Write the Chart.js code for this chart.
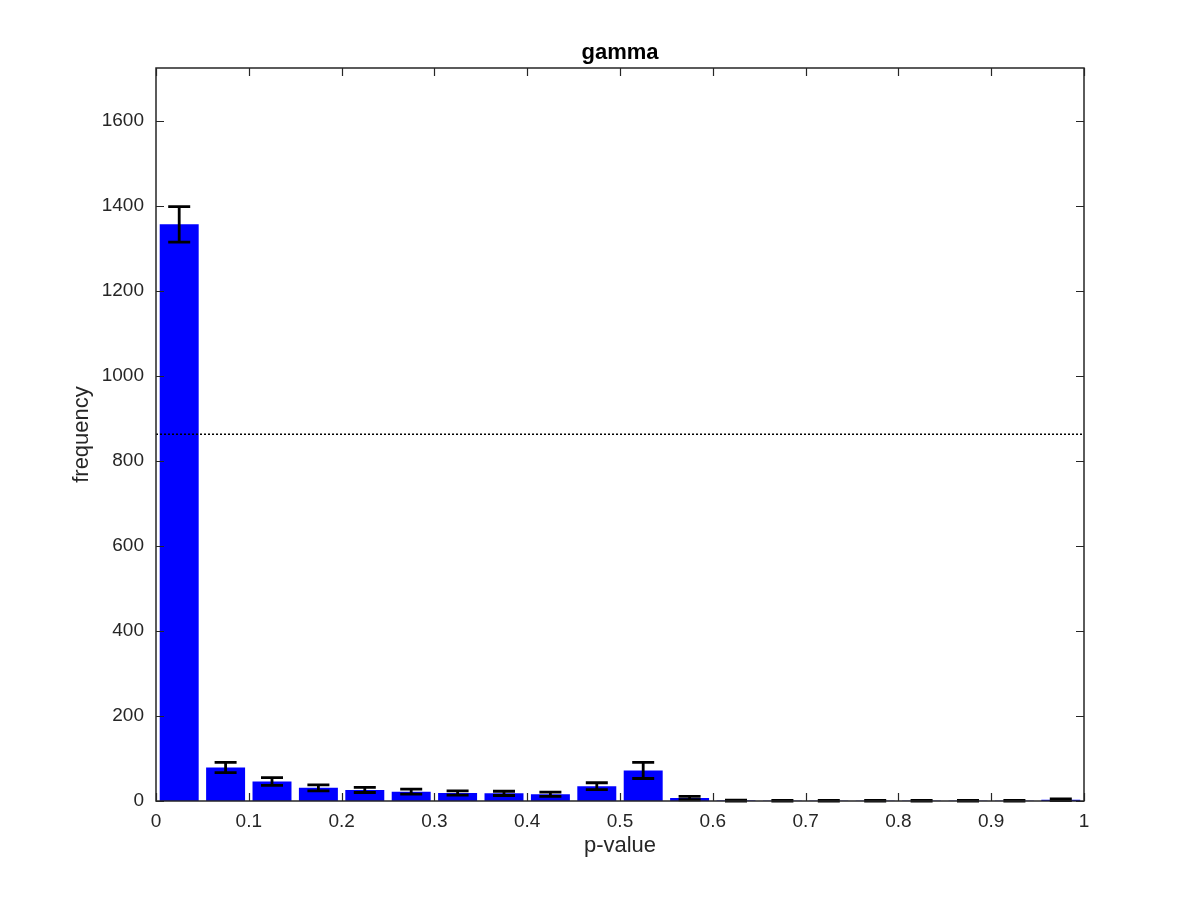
<!DOCTYPE html>
<html>
<head>
<meta charset="utf-8">
<script src="https://cdn.jsdelivr.net/npm/chart.js@4/dist/chart.umd.min.js"></script>
<style>
html,body{margin:0;padding:0;background:#fff;}
#wrap{width:1200px;height:900px;position:relative;}
</style>
</head>
<body>
<div id="wrap"><canvas id="c" width="1200" height="900"></canvas></div>
<script>
// ---- data ----
const binCenters = [0.025,0.075,0.125,0.175,0.225,0.275,0.325,0.375,0.425,0.475,0.525,0.575,0.625,0.675,0.725,0.775,0.825,0.875,0.925,0.975];
const frequencies = [1357,79,46,31,26,22,19,18,16,35,72,7,1,0.5,0.5,0.3,0.3,0.3,0.3,3];
const errors = [42,12,9,7,6,6,5,5,5,8,19,4,1,1,1,1,1,1,1,2];
const threshold = 863;
const xTickValues = [0,0.1,0.2,0.3,0.4,0.5,0.6,0.7,0.8,0.9,1];
const xTickLabels = ['0','0.1','0.2','0.3','0.4','0.5','0.6','0.7','0.8','0.9','1'];
const yTickValues = [0,200,400,600,800,1000,1200,1400,1600];
const yTickLabels = ['0','200','400','600','800','1000','1200','1400','1600'];
const titleText = 'gamma';
const xTitle = 'p-value';
const yTitle = 'frequency';

const FONT = '"Liberation Sans", Arial, Helvetica, sans-serif';
const AX = '#262626';

const decorPlugin = {
  id: 'decor',
  afterDatasetsDraw(chart) {
    const ctx = chart.ctx;
    const xs = chart.scales.x, ys = chart.scales.y;
    const a = chart.chartArea;
    ctx.save();
    // dotted threshold line
    const ty = ys.getPixelForValue(threshold);
    ctx.strokeStyle = '#000';
    ctx.lineWidth = 1.5;
    ctx.setLineDash([2, 2]);
    ctx.beginPath();
    ctx.moveTo(a.left, ty);
    ctx.lineTo(a.right, ty);
    ctx.stroke();
    ctx.setLineDash([]);
    // error bars
    ctx.strokeStyle = '#000';
    ctx.lineWidth = 2.8;
    const cap = 11;
    for (let i = 0; i < binCenters.length; i++) {
      const x = xs.getPixelForValue(binCenters[i]);
      const yt = ys.getPixelForValue(frequencies[i] + errors[i]);
      const yb = ys.getPixelForValue(Math.max(0, frequencies[i] - errors[i]));
      ctx.beginPath();
      ctx.moveTo(x, yt); ctx.lineTo(x, yb);
      ctx.moveTo(x - cap, yt); ctx.lineTo(x + cap, yt);
      ctx.moveTo(x - cap, yb); ctx.lineTo(x + cap, yb);
      ctx.stroke();
    }
    // box
    ctx.strokeStyle = AX;
    ctx.lineWidth = 1.5;
    ctx.strokeRect(a.left, a.top, a.right - a.left, a.bottom - a.top);
    // inward ticks
    ctx.lineWidth = 1.2;
    const tl = 8;
    ctx.beginPath();
    for (const v of xTickValues) {
      const x = Math.round(xs.getPixelForValue(v)) + 0.5;
      ctx.moveTo(x, a.bottom); ctx.lineTo(x, a.bottom - tl);
      ctx.moveTo(x, a.top); ctx.lineTo(x, a.top + tl);
    }
    for (const v of yTickValues) {
      const y = Math.round(ys.getPixelForValue(v)) + 0.5;
      ctx.moveTo(a.left, y); ctx.lineTo(a.left + tl, y);
      ctx.moveTo(a.right, y); ctx.lineTo(a.right - tl, y);
    }
    ctx.stroke();
    // titles
    ctx.fillStyle = '#000';
    ctx.textAlign = 'center';
    ctx.font = 'bold 22px ' + FONT;
    ctx.textBaseline = 'alphabetic';
    ctx.fillText(titleText, (a.left + a.right) / 2, 59);
    ctx.fillStyle = AX;
    ctx.font = '22px ' + FONT;
    ctx.fillText(xTitle, (a.left + a.right) / 2, 852);
    ctx.save();
    ctx.translate(88, (a.top + a.bottom) / 2);
    ctx.rotate(-Math.PI / 2);
    ctx.fillText(yTitle, 0, 0);
    ctx.restore();
    ctx.restore();
  }
};

new Chart(document.getElementById('c'), {
  type: 'bar',
  data: {
    datasets: [{
      data: binCenters.map((x, i) => ({x: x, y: frequencies[i]})),
      backgroundColor: '#0000ff',
      borderWidth: 0,
      barPercentage: 0.84,
      categoryPercentage: 1.0
    }]
  },
  options: {
    responsive: false,
    animation: false,
    devicePixelRatio: 1,
    layout: { padding: { left: 0, top: 68, right: 116, bottom: 0 } },
    plugins: { legend: { display: false }, tooltip: { enabled: false }, title: { display: false } },
    scales: {
      x: {
        type: 'linear',
        min: 0, max: 1,
        offset: false,
        grid: { display: false, drawTicks: false },
        border: { display: false },
        afterFit(s) { s.height = 99; },
        afterBuildTicks(s) { s.ticks = xTickValues.map(v => ({value: v})); },
        ticks: {
          padding: 9,
          color: AX,
          font: { family: FONT, size: 19 },
          maxRotation: 0,
          callback(v) { const i = xTickValues.indexOf(v); return i >= 0 ? xTickLabels[i] : ''; }
        }
      },
      y: {
        min: 0, max: 1725,
        grid: { display: false, drawTicks: false },
        border: { display: false },
        afterFit(s) { s.width = 156; },
        afterBuildTicks(s) { s.ticks = yTickValues.map(v => ({value: v})); },
        ticks: {
          padding: 12,
          color: AX,
          font: { family: FONT, size: 19 },
          callback(v) { const i = yTickValues.indexOf(v); return i >= 0 ? yTickLabels[i] : ''; }
        }
      }
    }
  },
  plugins: [decorPlugin]
});
</script>
</body>
</html>
